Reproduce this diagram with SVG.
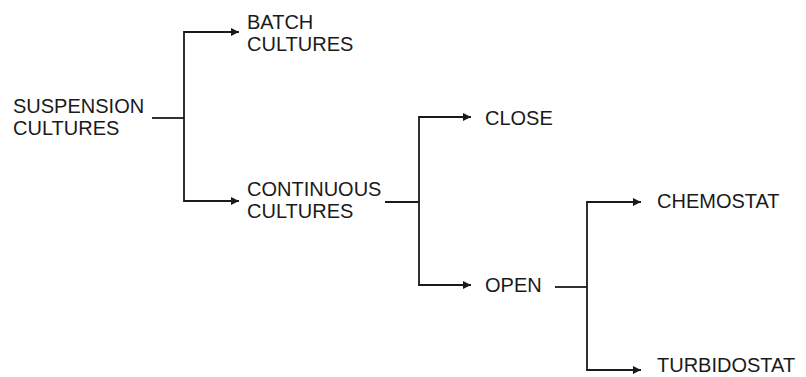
<svg xmlns="http://www.w3.org/2000/svg" width="806" height="377" viewBox="0 0 806 377">
  <style>
    .lbl { font-family: "Liberation Sans", Arial, sans-serif; font-size: 20px; fill: #1a1a1a; }
    .wire { fill: none; stroke: #1a1a1a; stroke-width: 1.8; }
  </style>
  <defs>
    <marker id="arrow" viewBox="0 0 10 10" refX="10" refY="5" markerWidth="8" markerHeight="8" markerUnits="userSpaceOnUse" orient="auto">
      <path d="M0,0 L10,5 L0,10 Z" fill="#1a1a1a"/>
    </marker>
  </defs>
  <rect width="806" height="377" fill="#ffffff"/>

  <g id="connectors">
    <!-- suspension -> batch / continuous -->
    <path class="wire" d="M152,118 H184"/>
    <path class="wire" d="M184,118 V32 H239" marker-end="url(#arrow)"/>
    <path class="wire" d="M184,118 V201 H239" marker-end="url(#arrow)"/>
    <!-- continuous -> close / open -->
    <path class="wire" d="M385,202 H419"/>
    <path class="wire" d="M419,202 V117 H471" marker-end="url(#arrow)"/>
    <path class="wire" d="M419,202 V285 H471" marker-end="url(#arrow)"/>
    <!-- open -> chemostat / turbidostat -->
    <path class="wire" d="M555,287 H587"/>
    <path class="wire" d="M587,287 V202 H641" marker-end="url(#arrow)"/>
    <path class="wire" d="M587,287 V370 H641" marker-end="url(#arrow)"/>
  </g>

  <g id="suspension">
    <text class="lbl" x="13" y="113">SUSPENSION</text>
    <text class="lbl" x="13" y="135">CULTURES</text>
  </g>
  <g id="batch">
    <text class="lbl" x="247" y="29">BATCH</text>
    <text class="lbl" x="247" y="51">CULTURES</text>
  </g>
  <g id="continuous">
    <text class="lbl" x="247" y="196">CONTINUOUS</text>
    <text class="lbl" x="247" y="218">CULTURES</text>
  </g>
  <g id="close">
    <text class="lbl" x="485" y="125">CLOSE</text>
  </g>
  <g id="open">
    <text class="lbl" x="485" y="292">OPEN</text>
  </g>
  <g id="chemostat">
    <text class="lbl" x="657" y="208">CHEMOSTAT</text>
  </g>
  <g id="turbidostat">
    <text class="lbl" x="657" y="372">TURBIDOSTAT</text>
  </g>
</svg>
